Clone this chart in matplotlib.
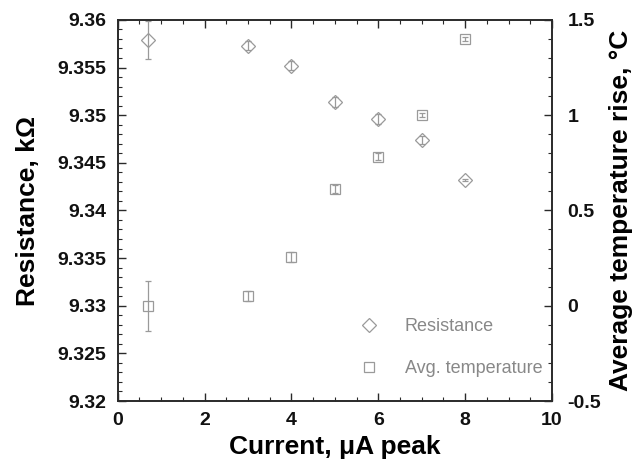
import matplotlib
matplotlib.use("Agg")
import matplotlib.pyplot as plt
from matplotlib.lines import Line2D
from matplotlib.ticker import MultipleLocator

plt.rcParams['font.family'] = ['Liberation Sans', 'DejaVu Sans']

# data
current = [0.7, 3, 4, 5, 6, 7, 8]
resistance = [9.3579, 9.3573, 9.3552, 9.3514, 9.3496, 9.3474, 9.3432]
resistance_err = [0.0020, 0.0005, 0.0005, 0.0005, 0.0005, 0.0004, 0.0001]
temp_rise = [0.0, 0.05, 0.255, 0.612, 0.783, 1.0, 1.40]
temp_err = [0.13, 0.025, 0.025, 0.02, 0.02, 0.01, 0.01]

res_ticks = [9.32, 9.325, 9.33, 9.335, 9.34, 9.345, 9.35, 9.355, 9.36]
res_labels = ['9.32', '9.325', '9.33', '9.335', '9.34', '9.345', '9.35', '9.355', '9.36']
temp_ticks = [-0.5, 0, 0.5, 1, 1.5]
temp_labels = ['-0.5', '0', '0.5', '1', '1.5']
x_ticks = [0, 2, 4, 6, 8, 10]

grey = '#9a9a9a'
frame = '#2a2a2a'

fig = plt.figure(figsize=(6.36, 4.62), dpi=100)
ax1 = fig.add_axes([0.185, 0.132, 0.683, 0.825])
ax2 = ax1.twinx()

ax1.errorbar(current, resistance, yerr=resistance_err, fmt='D', ms=7,
             mfc='none', mec=grey, mew=0.9, ecolor=grey, elinewidth=0.9,
             capsize=2.5, capthick=0.9)
ax2.errorbar(current, temp_rise, yerr=temp_err, fmt='s', ms=7.6,
             mfc='none', mec=grey, mew=0.9, ecolor=grey, elinewidth=0.9,
             capsize=2.5, capthick=0.9)

ax1.set_xticks(x_ticks)
ax1.xaxis.set_minor_locator(MultipleLocator(0.5))
ax1.set_yticks(res_ticks, res_labels)
ax1.yaxis.set_minor_locator(MultipleLocator(0.001))
ax2.set_yticks(temp_ticks, temp_labels)
ax2.yaxis.set_minor_locator(MultipleLocator(0.1))

ax1.set_xlim(0, 10)
ax1.set_ylim(9.32, 9.36)
ax2.set_ylim(-0.5, 1.5)

ax1.tick_params(axis='x', which='both', direction='in', top=True, colors=frame)
ax1.tick_params(axis='y', which='both', direction='in', right=False, colors=frame)
ax2.tick_params(axis='y', which='both', direction='in', colors=frame)
for ax in (ax1, ax2):
    ax.tick_params(which='major', length=6, width=1.0, labelsize=14, pad=8)
    ax.tick_params(which='minor', length=3, width=0.8)
    for lab in ax.get_xticklabels() + ax.get_yticklabels():
        lab.set_fontweight('bold')
        lab.set_color('#111111')
    for sp in ax.spines.values():
        sp.set_linewidth(1.2)
        sp.set_color(frame)
ax2.tick_params(axis='y', which='major', pad=11)

ax1.set_xlabel('Current, μA peak', fontsize=19, fontweight='bold', labelpad=4)
ax1.set_ylabel('Resistance, kΩ', fontsize=19, fontweight='bold', labelpad=13)
ax2.set_ylabel('Average temperature rise, °C', fontsize=19, fontweight='bold', labelpad=6)

handles = [
    Line2D([], [], ls='none', marker='D', ms=7, mfc='none', mec=grey, mew=0.9),
    Line2D([], [], ls='none', marker='s', ms=7.6, mfc='none', mec=grey, mew=0.9),
]
leg = ax2.legend(handles, ['Resistance', 'Avg. temperature'], loc='lower right',
                 bbox_to_anchor=(1.015, 0.02), frameon=False, fontsize=13,
                 labelspacing=1.4, handletextpad=1.5, handlelength=1.0)
for t in leg.get_texts():
    t.set_color('#888888')

fig.savefig('out.png', dpi=100)
